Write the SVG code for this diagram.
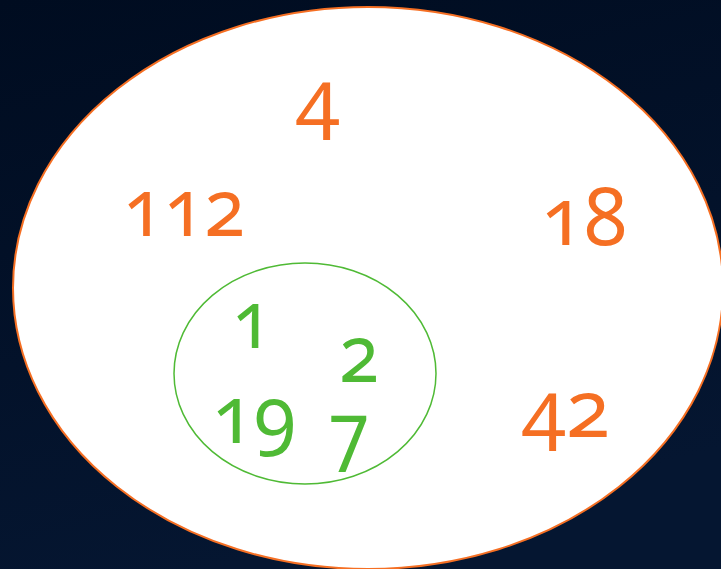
<svg xmlns="http://www.w3.org/2000/svg" width="721" height="569" viewBox="0 0 721 569">
<defs>
<linearGradient id="bg" x1="0" y1="0" x2="0.3" y2="1">
<stop offset="0" stop-color="#000c20"/>
<stop offset="1" stop-color="#051631"/>
</linearGradient>
<style>
.n{font-family:"Noto Sans","Open Sans",sans-serif;font-size:80px;font-feature-settings:"onum" 1;font-variant-numeric:oldstyle-nums;text-anchor:middle}
.o{fill:#f56f23}
.g{fill:#4fba35}
</style>
</defs>
<rect width="721" height="569" fill="url(#bg)"/>
<g id="outer">
<ellipse cx="368" cy="288" rx="355" ry="281" fill="#fff" stroke="#f56f23" stroke-width="2"/>
<text class="n o" x="318" y="126" textLength="44" lengthAdjust="spacingAndGlyphs">4</text>
<text class="n o" x="184" y="236" textLength="122" lengthAdjust="spacingAndGlyphs">112</text>
<text class="n o" x="584" y="245" textLength="86" lengthAdjust="spacingAndGlyphs">18</text>
<text class="n o" x="566" y="437" textLength="88" lengthAdjust="spacingAndGlyphs">42</text>
</g>
<g id="inner">
<ellipse cx="305" cy="373.5" rx="131" ry="110.5" fill="none" stroke="#4fba35" stroke-width="1.5"/>
<text class="n g" x="252" y="348" textLength="40" lengthAdjust="spacingAndGlyphs">1</text>
<text class="n g" x="359" y="382" textLength="40" lengthAdjust="spacingAndGlyphs">2</text>
<text class="n g" x="254" y="443" textLength="84" lengthAdjust="spacingAndGlyphs">19</text>
<text class="n g" x="349" y="459" textLength="40" lengthAdjust="spacingAndGlyphs">7</text>
</g>
</svg>
